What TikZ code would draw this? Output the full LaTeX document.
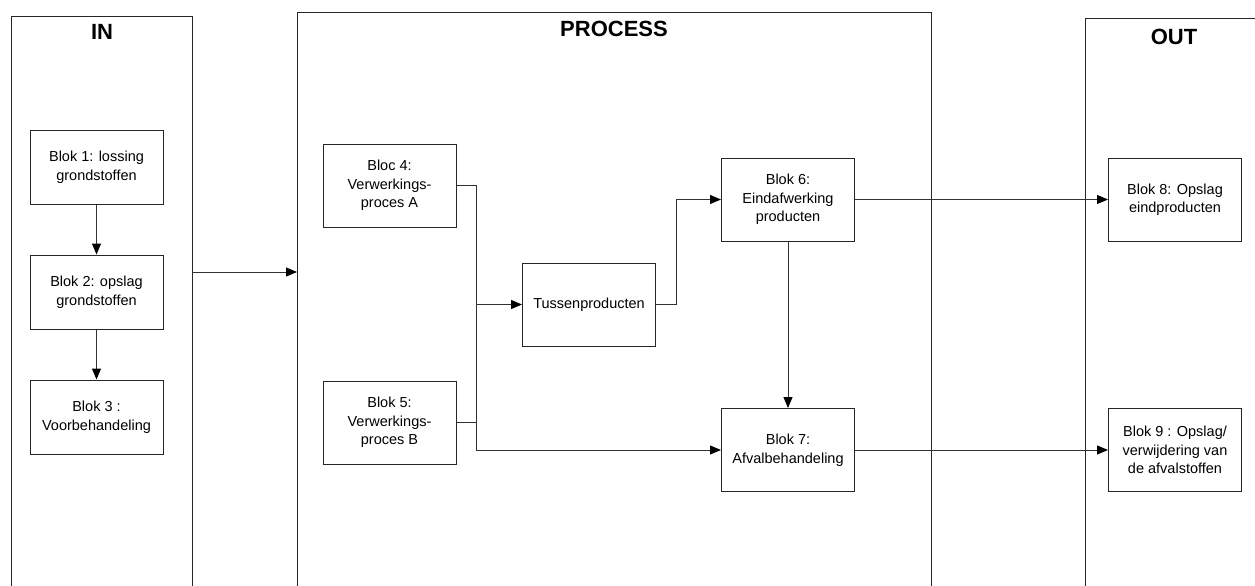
\documentclass[tikz,border=0pt]{standalone}
\usepackage{fontspec}
\setmainfont{Liberation Sans}
\usetikzlibrary{positioning,arrows.meta}

\begin{document}
\begin{tikzpicture}[
  x=1pt,y=-1pt,
  >={Triangle[length=11pt,width=9pt,color=black]},
  blok/.style  ={draw=black!85,line width=1pt,fill=white,align=center,
                 minimum width=133pt,minimum height=83pt,inner sep=2pt,
                 font=\fontsize{14.5}{18.5}\selectfont},
  inblok/.style={blok,minimum height=74pt},
  panel/.style ={draw=black!85,line width=1pt},
  title/.style ={font=\fontsize{22}{26}\bfseries\selectfont},
  flow/.style  ={draw=black!80,line width=1pt}]
\useasboundingbox (0,0) rectangle (1255,586);
% --- Three columns, open at the bottom ---
\draw[panel] (11,586) -- (11,17) -- (192,17) -- (192,586);
\draw[panel] (297,586) -- (297,13) -- (931,13) -- (931,586);
\draw[panel] (1085,586) -- (1085,19) -- (1255,19);
\node[title] (tIn)   at (102,32)  {IN};
\node[title] (tProc) at (614,29)  {PROCESS};
\node[title] (tOut)  at (1174,37) {OUT};
\coordinate (inR)   at (192,272);
\coordinate (procL) at (297,272);
% --- IN: intake chain ---
\node[inblok] (blok1) at (96.5,167) {Blok 1: lossing\\grondstoffen};
\node[inblok,below=50pt of blok1] (blok2) {Blok 2: opslag\\grondstoffen};
\node[inblok,below=50pt of blok2] (blok3) {Blok 3 :\\Voorbehandeling};
\draw[flow,->] (blok1) -- (blok2);
\draw[flow,->] (blok2) -- (blok3);
\draw[flow,->] (inR) -- (procL);
% --- PROCESS ---
\node[blok] (blok4)  at (389.5,185.5) {Bloc 4:\\Verwerkings-\\proces A};
\node[blok] (blok5)  at (389.5,422.5) {Blok 5:\\Verwerkings-\\proces B};
\node[blok] (tussen) at (589,304.5)   {Tussenproducten};
\node[blok] (blok6)  at (788,199.5)   {Blok 6:\\Eindafwerking\\producten};
\node[blok] (blok7)  at (788,450)     {Blok 7:\\Afvalbehandeling};
\coordinate (jn) at (476,304.5);
\draw[flow] (blok4.east) -| (jn);
\draw[flow] (blok5.east) -| (jn);
\draw[flow,->] (jn) -- (tussen.west);
\draw[flow,->] (jn) |- (blok7.west);
\draw[flow,->] (tussen.east) -- ++(20,0) |- (blok6.west);
\draw[flow,->] (blok6) -- (blok7);
% --- OUT ---
\node[blok] (blok8) at (1175,199.5) {Blok 8: Opslag\\eindproducten};
\node[blok] (blok9) at (1175,450)   {Blok 9 : Opslag/\\verwijdering van\\de afvalstoffen};
\draw[flow,->] (blok6) -- (blok8);
\draw[flow,->] (blok7) -- (blok9);
\end{tikzpicture}
\end{document}
